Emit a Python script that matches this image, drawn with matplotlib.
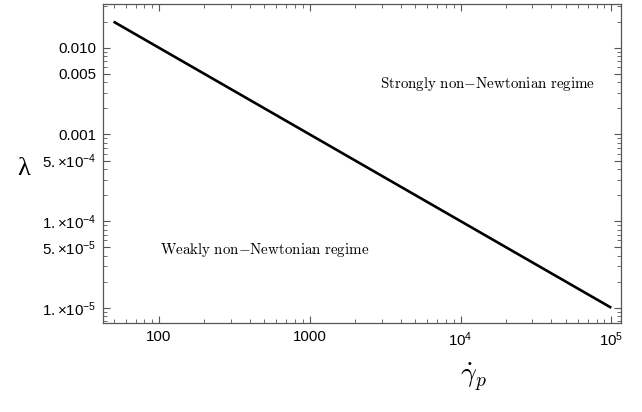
import matplotlib
matplotlib.use("Agg")
import matplotlib.pyplot as plt
from matplotlib.ticker import FixedLocator, FixedFormatter, LogLocator, NullFormatter

# shear rate vs. lambda, straight line on log-log axes
gamma_p = [50, 1e5]
lam = [0.02, 1e-5]

x_ticks = [100, 1000, 1e4, 1e5]
x_labels = ['100', '1000', r'$10^4$', r'$10^5$']
y_ticks = [0.01, 0.005, 0.001, 5e-4, 1e-4, 5e-5, 1e-5]
y_labels = ['0.010', '0.005', '0.001', r'$5.{\times}10^{-4}$', r'$1.{\times}10^{-4}$',
            r'$5.{\times}10^{-5}$', r'$1.{\times}10^{-5}$']

plt.rcParams['font.family'] = ['Liberation Sans', 'DejaVu Sans']
plt.rcParams['mathtext.fontset'] = 'custom'
plt.rcParams['mathtext.rm'] = 'Liberation Sans'
plt.rcParams['mathtext.it'] = 'Liberation Sans'
plt.rcParams['mathtext.bf'] = 'Liberation Sans'

fig = plt.figure(figsize=(6.42, 4.12), dpi=100)
ax = fig.add_axes([0.1604, 0.216, 0.8069, 0.774])

ax.plot(gamma_p, lam, color='black', lw=1.9, solid_capstyle='butt')

ax.set_xscale('log')
ax.set_yscale('log')
ax.set_xlim(42.5, 1.16e5)
ax.set_ylim(6.67e-6, 0.0319)

ax.xaxis.set_major_locator(FixedLocator(x_ticks))
ax.xaxis.set_major_formatter(FixedFormatter(x_labels))
ax.yaxis.set_major_locator(FixedLocator(y_ticks))
ax.yaxis.set_major_formatter(FixedFormatter(y_labels))
for axis in (ax.xaxis, ax.yaxis):
    axis.set_minor_locator(LogLocator(base=10, subs=range(2, 10), numticks=20))
    axis.set_minor_formatter(NullFormatter())

gray = '#555555'
for s in ax.spines.values():
    s.set_color(gray)
    s.set_linewidth(0.9)
ax.tick_params(which='both', direction='in', top=True, right=True, color=gray,
               labelsize=10.8, labelcolor='black')
ax.tick_params(which='major', length=5, width=0.8, pad=5)
ax.tick_params(which='minor', length=2.8, width=0.6)

ax.text(0.743, 0.749, r'$\mathrm{Strongly\ non{-}Newtonian\ regime}$', transform=ax.transAxes,
        fontsize=10.8, math_fontfamily='cm', ha='center', va='center')
ax.text(0.313, 0.229, r'$\mathrm{Weakly\ non{-}Newtonian\ regime}$', transform=ax.transAxes,
        ha='center', va='center', fontsize=10.8, math_fontfamily='cm')

fig.text(0.037, 0.59, 'λ', fontsize=19, family='Liberation Serif', ha='center', va='center')
fig.text(0.737, 0.085, r'$\dot{\gamma}_p$', fontsize=20, math_fontfamily='cm', ha='center', va='center')

fig.savefig('out.png', dpi=100)
